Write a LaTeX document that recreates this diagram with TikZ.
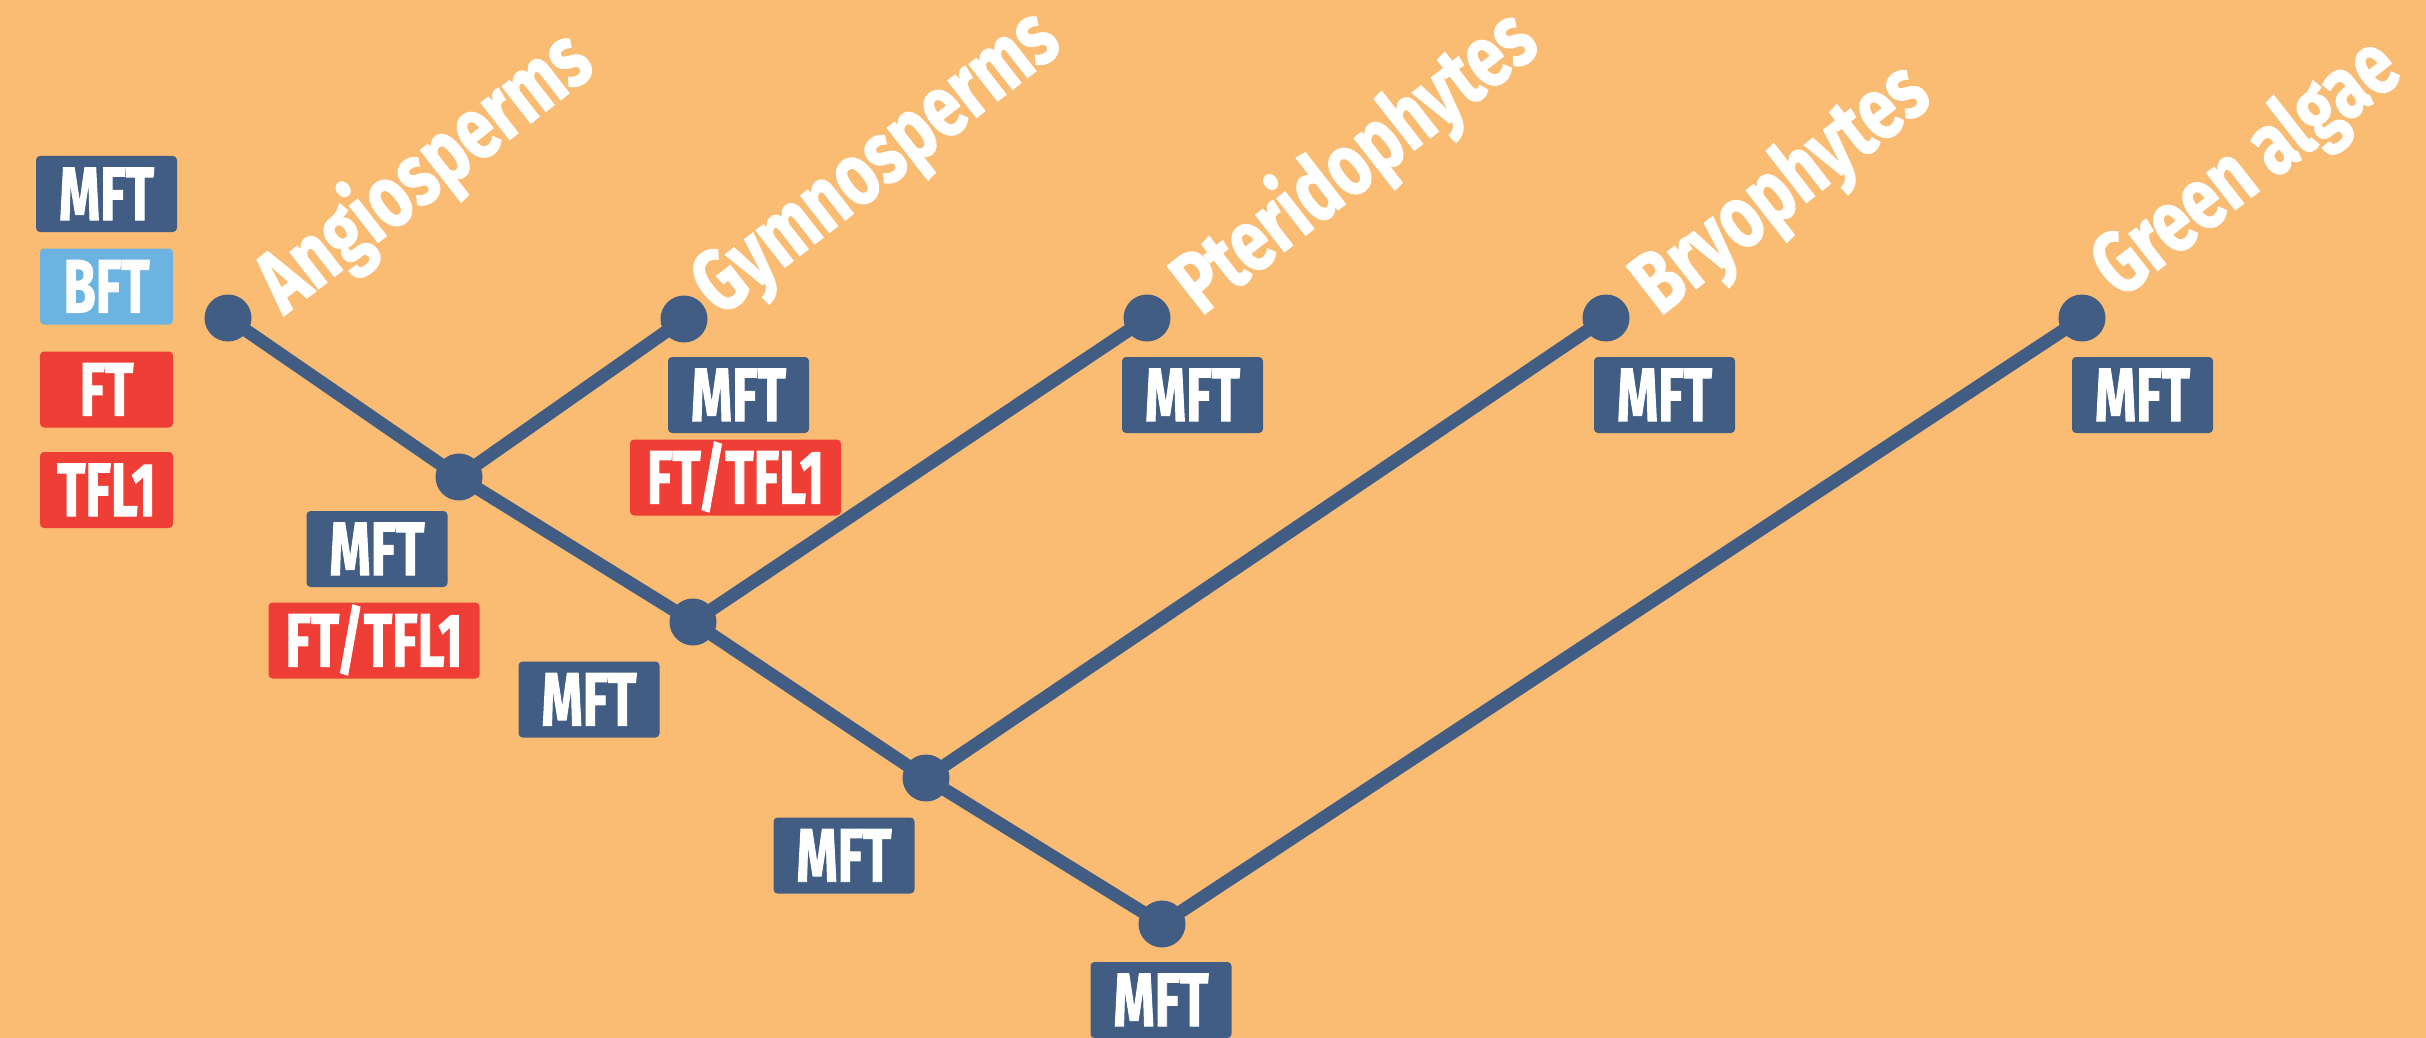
\documentclass[tikz,border=0pt]{standalone}
\usepackage{fontspec}
\newfontfamily\boxfont{Fira Sans}[FakeStretch=0.69, FakeBold=1.2]
\newfontfamily\labfont{Fira Sans}[FakeStretch=0.76, FakeBold=1.2]
\definecolor{cbg}{HTML}{F9BC72}
\definecolor{cnavy}{HTML}{425D84}
\definecolor{csky}{HTML}{6BB3E0}
\definecolor{cred}{HTML}{EF3E36}
\begin{document}
\begin{tikzpicture}[x=0.5pt,y=-0.5pt,
  tag/.style={rounded corners=2pt, inner sep=0pt, text=white,
    font=\boxfont\bfseries\fontsize{38}{38}\selectfont,
    text height=26.2pt, text depth=0pt, minimum height=38pt},
  mft/.style={tag, fill=cnavy, minimum width=70.5pt},
  bft/.style={tag, fill=csky, minimum width=66.5pt},
  ftt/.style={tag, fill=cred, minimum width=66.5pt},
  fttfl/.style={tag, fill=cred, minimum width=105.5pt},
  dot/.style={circle, fill=cnavy, inner sep=0pt, minimum size=23.5pt},
  branch/.style={draw=cnavy, line width=6.5pt},
  lab/.style={text=white, font=\labfont\bfseries\fontsize{44}{44}\selectfont,
    rotate=38, anchor=base west, inner sep=0pt}]
\fill[cbg] (0,0) rectangle (2426,1038);
\useasboundingbox (0,0) rectangle (2426,1038);

% legend
\node[mft] (legM) at (106.5,194) {MFT};
\node[bft] (legB) at (106.5,286.5) {BFT};
\node[ftt] (legF) at (106.5,389.5) {FT};
\node[ftt] (legT) at (106.5,490) {TFL1};

% tips and inner nodes
\node[dot] (angio) at (228,318) {};
\node[dot] (gymno) at (684,319) {};
\node[dot] (pter) at (1147,318) {};
\node[dot] (bryo) at (1606,318) {};
\node[dot] (green) at (2082,318) {};
\node[dot] (n1) at (459,477) {};
\node[dot] (n2) at (693,622) {};
\node[dot] (n3) at (926,778) {};
\node[dot] (n4) at (1162,924) {};

% branches
\draw[branch] (angio.center) -- (n1.center);
\draw[branch] (gymno.center) -- (n1.center);
\draw[branch] (n1.center) -- (n2.center);
\draw[branch] (pter.center) -- (n2.center);
\draw[branch] (n2.center) -- (n3.center);
\draw[branch] (bryo.center) -- (n3.center);
\draw[branch] (n3.center) -- (n4.center);
\draw[branch] (green.center) -- (n4.center);

% labels
\node[lab] (lAngio) at (284,316) {Angiosperms};
\node[lab] (lGymno) at (720,318) {Gymnosperms};
\node[lab] (lPter) at (1201,317) {Pteridophytes};
\node[lab] (lBryo) at (1660,317) {Bryophytes};
\node[lab] (lGreen) at (2120,300) {Green algae};

% gene boxes
\node[mft] (gM) at (738.5,395) {MFT};
\node[fttfl] (gF) at (735.5,477.5) {FT/TFL1};
\node[mft] (pM) at (1192.5,395) {MFT};
\node[mft] (bM) at (1664.5,395) {MFT};
\node[mft] (grM) at (2142.5,395) {MFT};
\node[mft] (n1M) at (377,549) {MFT};
\node[fttfl] (n1F) at (374,640.5) {FT/TFL1};
\node[mft] (n2M) at (589,699.5) {MFT};
\node[mft] (n3M) at (844,855.5) {MFT};
\node[mft] (n4M) at (1161,1000) {MFT};
\end{tikzpicture}
\end{document}
